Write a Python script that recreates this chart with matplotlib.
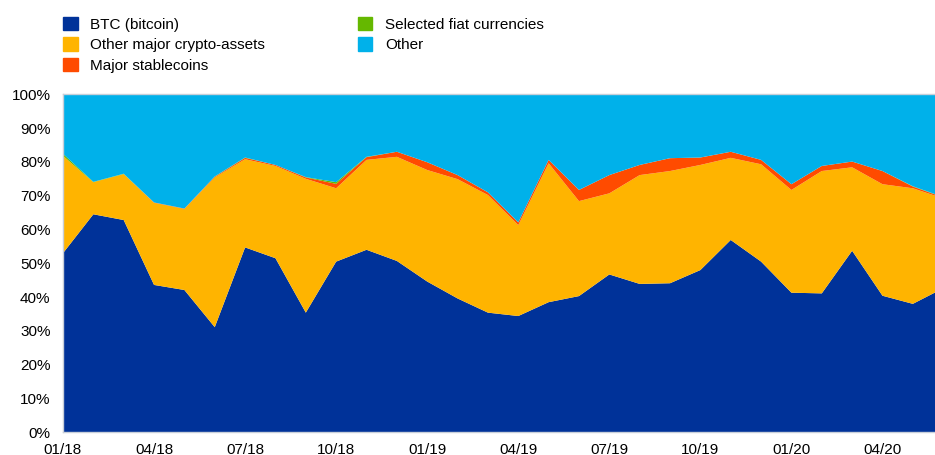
import matplotlib
matplotlib.use('Agg')
import matplotlib.pyplot as plt
import matplotlib.patches as mpatches
import numpy as np

plt.rcParams['font.family'] = ['Liberation Sans', 'DejaVu Sans']

# monthly shares (%), 01/18 .. 06/20
months = ["01/18", "02/18", "03/18", "04/18", "05/18", "06/18", "07/18", "08/18", "09/18", "10/18",
          "11/18", "12/18", "01/19", "02/19", "03/19", "04/19", "05/19", "06/19", "07/19", "08/19",
          "09/19", "10/19", "11/19", "12/19", "01/20", "02/20", "03/20", "04/20", "05/20", "06/20"]
btc = [53.0, 64.5, 62.8, 43.6, 42.1, 31.1, 54.7, 51.5, 35.4, 50.5,
       54.0, 50.7, 44.6, 39.6, 35.4, 34.4, 38.5, 40.3, 46.7, 43.9,
       44.1, 48.0, 56.9, 50.5, 41.3, 41.1, 53.7, 40.4, 38.0, 42.6]
other_crypto = [28.8, 9.5, 13.6, 24.3, 24.0, 44.3, 26.1, 27.3, 39.6, 21.7,
                26.6, 30.8, 33.0, 35.3, 34.8, 26.9, 41.1, 28.1, 24.0, 32.2,
                33.2, 31.1, 24.3, 28.8, 30.4, 36.2, 24.7, 33.0, 34.2, 26.6]
stablecoins = [0.0, 0.0, 0.0, 0.1, 0.1, 0.2, 0.4, 0.3, 0.4, 1.3,
               0.8, 1.5, 2.3, 1.2, 0.8, 0.8, 1.0, 3.3, 5.4, 3.0,
               3.8, 2.2, 1.8, 1.3, 1.7, 1.5, 1.7, 3.9, 0.5, 0.3]
fiat = [0.6, 0.1, 0.1, 0.0, 0.0, 0.1, 0.1, 0.0, 0.1, 0.5,
        0.1, 0.0, 0.0, 0.0, 0.0, 0.0, 0.0, 0.0, 0.0, 0.0,
        0.0, 0.0, 0.0, 0.0, 0.0, 0.0, 0.0, 0.0, 0.1, 0.1]
other = [100 - a - b - c - d for a, b, c, d in zip(btc, other_crypto, stablecoins, fiat)]

labels = ["BTC (bitcoin)", "Other major crypto-assets", "Major stablecoins",
          "Selected fiat currencies", "Other"]
colors = ["#003299", "#FFB400", "#FF4B00", "#65B800", "#00B1EA"]

x = np.arange(len(months))

fig = plt.figure(figsize=(9.35, 4.55), dpi=100)
ax = fig.add_axes([63 / 935, 22.7 / 455, 872 / 935, 338 / 455])

ax.stackplot(x, btc, other_crypto, stablecoins, fiat, other, colors=colors, linewidth=0)

ax.set_xlim(0, 28.73)
ax.set_ylim(0, 100)
ax.set_xticks(x[::3], months[::3])
ax.set_yticks(np.arange(0, 101, 10), [f"{v}%" for v in range(0, 101, 10)])
ax.tick_params(length=0, labelsize=11, colors="#000000")
ax.tick_params(axis='y', pad=9)
ax.tick_params(axis='x', pad=8)

for side in ['left', 'bottom', 'top']:
    ax.spines[side].set_color('#c8cfd9')
    ax.spines[side].set_linewidth(1)
ax.spines['right'].set_visible(False)

handles = [mpatches.Patch(color=c, label=l) for c, l in zip(colors, labels)]
fig.legend(handles=handles, ncol=2, loc='upper left', bbox_to_anchor=(63 / 935, 0.963),
           frameon=False, fontsize=11, handlelength=0.95, handleheight=0.95,
           handletextpad=0.85, columnspacing=6.05, labelspacing=0.37,
           borderpad=0, borderaxespad=0)

fig.savefig("out.png", dpi=100)
